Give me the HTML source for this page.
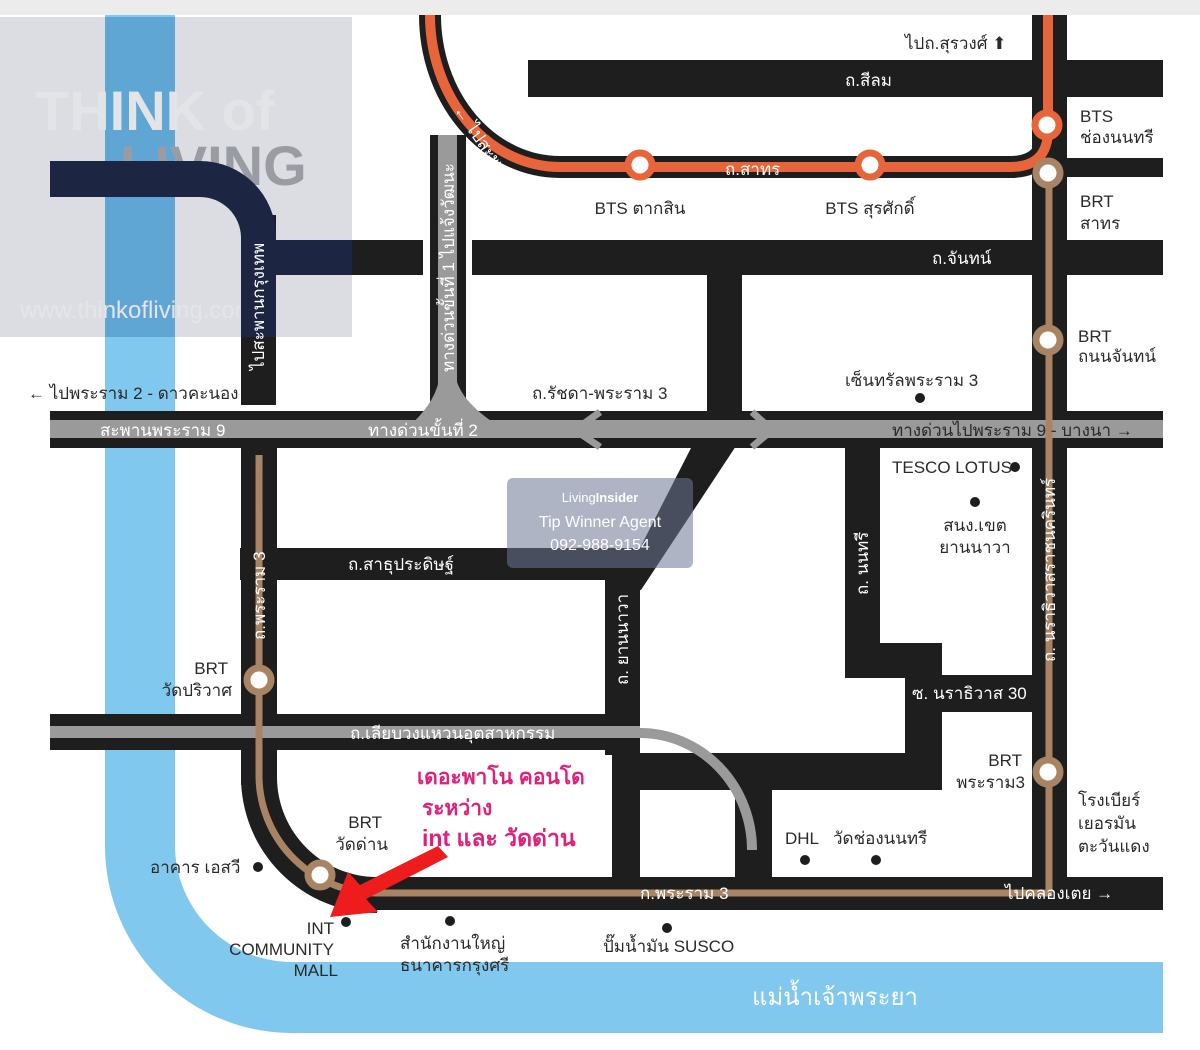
<!DOCTYPE html>
<html><head><meta charset="utf-8"><style>
html,body{margin:0;padding:0;background:#fff;}
svg{display:block;}
text{font-family:"Liberation Sans","DejaVu Sans",sans-serif;}
.lb{font-size:17px;fill:#2a2a2a;}
.w{font-size:17px;fill:#fff;}
</style></head><body>
<svg width="1200" height="1050" viewBox="0 0 1200 1050" xmlns="http://www.w3.org/2000/svg">
<rect width="1200" height="1050" fill="#fff"/>
<rect width="1200" height="15" fill="#ececec"/>
<rect x="0" y="17" width="352" height="320" fill="#dcdde2"/>
<!-- river -->
<path d="M105,15 H175 V845 A117,117 0 0 0 292,962 H1163 V1033 H292 A187,187 0 0 1 105,846 Z" fill="#80c8ee"/>
<rect x="105" y="17" width="70" height="320" fill="#5fa6d4"/>
<!-- watermark text -->
<text x="35" y="130" font-family="Liberation Serif" font-size="56" font-weight="bold" fill="#e3e4e8">THINK  of</text>
<text x="120" y="185" font-family="Liberation Serif" font-size="56" font-weight="bold" fill="#9a9ca4">LIVING</text>
<text x="20" y="318" font-family="Liberation Serif" font-size="24" fill="#e4e5e9">www.thinkofliving.com</text>
<!-- black roads -->
<g fill="#1e1e1e">
<rect x="528" y="60" width="635" height="37"/>
<rect x="1032" y="15" width="35" height="895"/>
<rect x="1032" y="158" width="131" height="19"/>
<rect x="352" y="240" width="71" height="35"/>
<rect x="472" y="240" width="691" height="35"/>
<rect x="707" y="272" width="35" height="140"/>
<polygon points="692,446 736,446 641,590 605,590 605,568 640,548 "/>
<rect x="240" y="548" width="400" height="32"/>
<rect x="241" y="445" width="36" height="340"/>
<path d="M241,777 A136,136 0 0 0 377,913 L377,877 A100,100 0 0 1 277,777 Z"/>
<rect x="340" y="877" width="823" height="33"/>
<rect x="605" y="580" width="35" height="300"/>
<rect x="845" y="445" width="35" height="233"/>
<rect x="845" y="643" width="97" height="35"/>
<rect x="905" y="643" width="37" height="147"/>
<rect x="940" y="675" width="95" height="37"/>
<rect x="640" y="753" width="302" height="37"/>
<rect x="735" y="753" width="37" height="125"/>
<rect x="241" y="215" width="35" height="190"/>
</g>
<!-- navy expressway in watermark box -->
<path d="M50,161 H200 A76,76 0 0 1 276,237 V337 H241 V237 A41,41 0 0 0 200,197 H50 Z" fill="#1c2643"/>
<rect x="276" y="240" width="76" height="35" fill="#1c2643"/>
<!-- bridge rama 9 -->
<rect x="50" y="411" width="1113" height="37" fill="#1e1e1e"/>
<rect x="50" y="420" width="1113" height="18" fill="#9a9a9a"/>
<g stroke="#9a9a9a" stroke-width="7" fill="none">
<path d="M600,412 L575,430 L600,447"/>
<path d="M752,412 L772,430 L752,447"/>
</g>
<!-- vertical expressway -->
<rect x="430" y="135" width="36" height="280" fill="#1e1e1e"/>
<rect x="438" y="135" width="19" height="280" fill="#9a9a9a"/>
<path d="M405,430 Q440,400 440,370 L455,370 Q455,400 505,430 Z" fill="#9a9a9a"/>
<!-- industrial ring road -->
<rect x="50" y="714" width="590" height="36" fill="#1e1e1e"/>
<rect x="50" y="726" width="590" height="12" fill="#9a9a9a"/>
<path d="M640,733 A112,117 0 0 1 752,850" stroke="#9a9a9a" stroke-width="10" fill="none"/>
<!-- BTS orange -->
<g fill="none">
<path d="M430,15 A130,152 0 0 0 560,167 H1010 Q1048,167 1048,130 V15" stroke="#1e1e1e" stroke-width="22"/>
<path d="M430,15 A130,152 0 0 0 560,167 H1010 Q1048,167 1048,130 V15" stroke="#e8643a" stroke-width="10"/>
</g>
<!-- BRT brown -->
<g fill="none" stroke="#a88464" stroke-width="7">
<path d="M1049,175 V893 H377 A118,118 0 0 1 259,777 V455"/>
</g>
<!-- stations -->
<g stroke-width="7" fill="#fff">
<circle cx="640" cy="165" r="12" stroke="#e8643a"/>
<circle cx="870" cy="165" r="12" stroke="#e8643a"/>
<circle cx="1047" cy="125" r="12" stroke="#e8643a"/>
<circle cx="1048" cy="173" r="12" stroke="#a88464"/>
<circle cx="1048" cy="340" r="12" stroke="#a88464"/>
<circle cx="1048" cy="772" r="12" stroke="#a88464"/>
<circle cx="259" cy="680" r="12" stroke="#a88464"/>
<circle cx="320" cy="875" r="12" stroke="#a88464"/>
</g>
<!-- dots -->
<g fill="#1e1e1e">
<circle cx="920" cy="398" r="5"/><circle cx="1015" cy="467" r="5"/><circle cx="975" cy="502" r="5"/>
<circle cx="805" cy="860" r="5"/><circle cx="876" cy="860" r="5"/><circle cx="258" cy="867" r="5"/>
<circle cx="346" cy="922" r="5"/><circle cx="450" cy="921" r="5"/><circle cx="667" cy="928" r="5"/>
</g>
<!-- callout -->
<rect x="412" y="755" width="200" height="122" fill="#fff"/>
<text x="417" y="784" font-size="21" font-weight="bold" fill="#e0207a">เดอะพาโน คอนโด</text>
<text x="422" y="815" font-size="21" font-weight="bold" fill="#e0207a">ระหว่าง</text>
<text x="422" y="846" font-size="23" font-weight="bold" fill="#e0207a">int และ วัดด่าน</text>
<path d="M448,857 L438,846 L360,885 L348,872 L330,917 L378,912 L366,899 Z" fill="#ee1c1c"/>
<!-- labels -->
<text x="905" y="49" class="lb">ไปถ.สุรวงศ์ ⬆</text>
<text x="845" y="86" class="w" font-size="19">ถ.สีลม</text>
<text x="725" y="175" class="w" font-size="15">ถ.สาทร</text>
<text x="640" y="214" class="lb" text-anchor="middle">BTS ตากสิน</text>
<text x="870" y="214" class="lb" text-anchor="middle">BTS สุรศักดิ์</text>
<text x="1080" y="122" class="lb">BTS</text><text x="1080" y="143" class="lb">ช่องนนทรี</text>
<text x="1080" y="207" class="lb">BRT</text><text x="1080" y="229" class="lb">สาทร</text>
<text x="932" y="264" class="w" font-size="19">ถ.จันทน์</text>
<text x="1078" y="342" class="lb">BRT</text><text x="1078" y="362" class="lb">ถนนจันทน์</text>
<text x="845" y="386" class="lb">เซ็นทรัลพระราม 3</text>
<text x="532" y="399" class="lb">ถ.รัชดา-พระราม 3</text>
<text x="28" y="399" class="lb">← ไปพระราม 2 - ดาวคะนอง</text>
<text x="100" y="436" class="w">สะพานพระราม 9</text>
<text x="368" y="436" class="w">ทางด่วนขั้นที่ 2</text>
<text x="892" y="436" class="lb" font-size="16">ทางด่วนไปพระราม 9 - บางนา  →</text>
<text x="892" y="473" class="lb" font-size="15">TESCO LOTUS</text>
<text x="975" y="531" class="lb" text-anchor="middle">สนง.เขต</text><text x="975" y="553" class="lb" text-anchor="middle">ยานนาวา</text>
<text x="348" y="570" class="w" font-size="18">ถ.สาธุประดิษฐ์</text>
<text x="912" y="699" class="w">ซ. นราธิวาส 30</text>
<text x="228" y="674" class="lb" text-anchor="end">BRT</text><text x="232" y="696" class="lb" text-anchor="end">วัดปริวาศ</text>
<text x="350" y="739" class="w" font-size="16">ถ.เลียบวงแหวนอุตสาหกรรม</text>
<text x="1022" y="766" class="lb" text-anchor="end">BRT</text><text x="1025" y="788" class="lb" text-anchor="end">พระราม3</text>
<text x="1078" y="806" class="lb">โรงเบียร์</text><text x="1078" y="829" class="lb">เยอรมัน</text><text x="1078" y="852" class="lb">ตะวันแดง</text>
<text x="785" y="844" class="lb">DHL</text><text x="833" y="844" class="lb">วัดช่องนนทรี</text>
<text x="382" y="828" class="lb" text-anchor="end">BRT</text><text x="388" y="850" class="lb" text-anchor="end">วัดด่าน</text>
<text x="150" y="873" class="lb">อาคาร เอสวี</text>
<text x="640" y="899" class="w">ก.พระราม 3</text>
<text x="1005" y="899" class="w">ไปคลองเตย  →</text>
<text x="334" y="934" class="lb" text-anchor="end">INT</text>
<text x="334" y="955" class="lb" text-anchor="end">COMMUNITY</text>
<text x="338" y="976" class="lb" text-anchor="end">MALL</text>
<text x="400" y="949" class="lb">สำนักงานใหญ่</text><text x="400" y="971" class="lb">ธนาคารกรุงศรี</text>
<text x="603" y="952" class="lb">ปั๊มน้ำมัน SUSCO</text>
<text x="835" y="1005" fill="#fff" font-size="24" text-anchor="middle">แม่น้ำเจ้าพระยา</text>
<!-- rotated -->
<text transform="translate(264,370) rotate(-90)" class="w" font-size="16">ไปสะพานกรุงเทพ</text>
<text transform="translate(454,372) rotate(-90)" class="w" font-size="15">ทางด่วนขั้นที่ 1 ไปแจ้งวัฒนะ</text>
<text transform="translate(265,640) rotate(-90)" class="w" font-size="16">ถ.พระราม 3</text>
<text transform="translate(628,685) rotate(-90)" class="w" font-size="16">ถ. ยานนาวา</text>
<text transform="translate(868,595) rotate(-90)" class="w" font-size="16">ถ. นนทรี</text>
<text transform="translate(1055,662) rotate(-90)" class="w" font-size="15">ถ. นราธิวาสราชนครินทร์</text>
<text transform="translate(453,110) rotate(55)" class="w" font-size="15">← ไปสะพานสาทร</text>
<!-- LivingInsider overlay -->
<rect x="507" y="478" width="186" height="90" rx="6" fill="rgba(110,118,150,0.55)"/>
<text x="600" y="502" fill="#fff" font-size="13" text-anchor="middle">Living<tspan font-weight="bold">Insider</tspan></text>
<text x="600" y="527" fill="#fff" font-size="16" text-anchor="middle">Tip Winner Agent</text>
<text x="600" y="550" fill="#fff" font-size="16" text-anchor="middle">092-988-9154</text>
</svg>
</body></html>
